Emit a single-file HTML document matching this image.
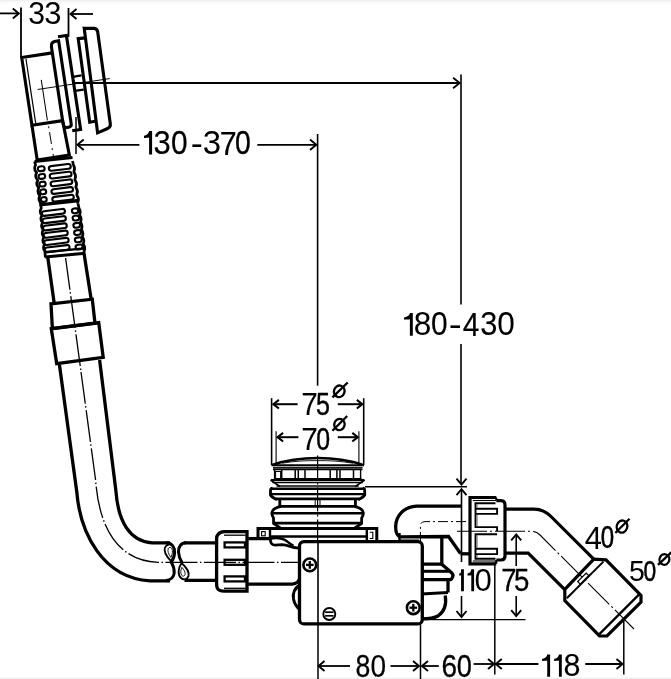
<!DOCTYPE html>
<html><head><meta charset="utf-8"><style>
html,body{margin:0;padding:0;background:#fff;}
svg{display:block;} text{-webkit-font-smoothing:antialiased;}
</style></head><body>
<svg width="671" height="679" viewBox="0 0 671 679" style="will-change:transform;font-family:'Liberation Sans',sans-serif">
<rect x="0" y="0" width="671" height="679" fill="#fff"/>
<rect x="0" y="0" width="671" height="1.6" fill="#f0f0f0"/>
<rect x="0" y="1.6" width="671" height="2" fill="#fafafa"/>
<rect x="0" y="677.6" width="671" height="1.4" fill="#f0f0f0"/>
<g stroke="#000" fill="none" stroke-linecap="butt" stroke-linejoin="miter">
<line x1="0" y1="13.4" x2="18.5" y2="13.4" stroke-width="1.8" />
<path d="M12.8,8.4 L18.8,13.4 L12.8,18.4" stroke-width="1.9" fill="none" />
<line x1="21" y1="7.5" x2="21" y2="57.5" stroke-width="1.8" />
<text transform="translate(28.25,23.80) scale(0.984,1)" font-size="30.65" fill="#000" stroke="none">3</text>
<text transform="translate(44.32,23.80) scale(1.012,1)" font-size="30.65" fill="#000" stroke="none">3</text>
<line x1="68.5" y1="8" x2="68.5" y2="37" stroke-width="1.8" />
<line x1="70.5" y1="14" x2="93" y2="14" stroke-width="1.8" />
<path d="M76.5,9.0 L70.5,14 L76.5,19.0" stroke-width="1.9" fill="none" />
<line x1="75" y1="83" x2="459" y2="83" stroke-width="1.8" />
<path d="M453.09999999999997,77.8 L459.7,83 L453.09999999999997,88.2" stroke-width="1.8" fill="none" />
<line x1="461" y1="74.6" x2="461" y2="304.4" stroke-width="1.6" />
<path d="M409.88,313.00 L412.80,313.00 L412.80,335.80 L409.88,335.80 L409.88,319.16 C408.68,319.50 405.00,319.61 404.00,319.61 L404.00,317.45 C406.50,317.22 409.58,315.51 409.88,313.00 Z" fill="#000" stroke="none"/>
<text transform="translate(413.73,335.48) scale(0.966,1)" font-size="32.65" fill="#000" stroke="#000" stroke-width="0.07" vector-effect="non-scaling-stroke">8</text>
<text transform="translate(431.03,335.48) scale(0.916,1)" font-size="32.65" fill="#000" stroke="#000" stroke-width="0.18" vector-effect="non-scaling-stroke">0</text>
<text transform="translate(448.87,335.80) scale(1.192,1)" font-size="32.65" fill="#000" stroke="none">-</text>
<text transform="translate(462.71,335.80) scale(0.918,1)" font-size="32.65" fill="#000" stroke="#000" stroke-width="0.18" vector-effect="non-scaling-stroke">4</text>
<text transform="translate(480.13,335.48) scale(0.943,1)" font-size="32.65" fill="#000" stroke="#000" stroke-width="0.13" vector-effect="non-scaling-stroke">3</text>
<text transform="translate(497.37,335.48) scale(0.967,1)" font-size="32.65" fill="#000" stroke="#000" stroke-width="0.07" vector-effect="non-scaling-stroke">0</text>
<line x1="461" y1="344" x2="461" y2="484" stroke-width="1.6" />
<path d="M456.5,478.6 L461.5,484.6 L466.5,478.6" stroke-width="1.9" fill="none" />
<line x1="365" y1="486.8" x2="467" y2="486.8" stroke-width="1.4" />
<path d="M456.5,495.2 L461.5,489.2 L466.5,495.2" stroke-width="1.9" fill="none" />
<line x1="461.5" y1="489.5" x2="461.5" y2="562" stroke-width="1.6" />
<line x1="461.5" y1="596" x2="461.5" y2="616.5" stroke-width="1.6" />
<path d="M456.5,611.0 L461.5,617 L466.5,611.0" stroke-width="1.9" fill="none" />
<line x1="76" y1="117" x2="76" y2="154" stroke-width="1.5" />
<line x1="77.5" y1="144.8" x2="139.4" y2="144.8" stroke-width="1.8" />
<path d="M83.7,139.5 L77.4,144.8 L83.7,150.10000000000002" stroke-width="1.9" fill="none" />
<path d="M149.09,131.10 L152.10,131.10 L152.10,154.60 L149.09,154.60 L149.09,137.44 C147.89,137.80 145.00,137.91 144.00,137.91 L144.00,135.68 C146.50,135.45 148.79,133.69 149.09,131.10 Z" fill="#000" stroke="none"/>
<text transform="translate(153.62,154.27) scale(0.921,1)" font-size="33.66" fill="#000" stroke="#000" stroke-width="0.17" vector-effect="non-scaling-stroke">3</text>
<text transform="translate(171.03,154.27) scale(0.889,1)" font-size="33.66" fill="#000" stroke="#000" stroke-width="0.24" vector-effect="non-scaling-stroke">0</text>
<text transform="translate(190.68,154.60) scale(1.083,1)" font-size="33.66" fill="#000" stroke="none">-</text>
<text transform="translate(202.75,154.27) scale(0.978,1)" font-size="33.66" fill="#000" stroke="none">3</text>
<text transform="translate(219.64,154.60) scale(0.902,1)" font-size="33.66" fill="#000" stroke="#000" stroke-width="0.22" vector-effect="non-scaling-stroke">7</text>
<text transform="translate(235.09,154.27) scale(0.845,1)" font-size="33.66" fill="#000" stroke="#000" stroke-width="0.34" vector-effect="non-scaling-stroke">0</text>
<line x1="257.3" y1="144.8" x2="316" y2="144.8" stroke-width="1.8" />
<path d="M310.0,139.5 L316.3,144.8 L310.0,150.10000000000002" stroke-width="1.9" fill="none" />
<line x1="317.6" y1="134" x2="317.6" y2="385.7" stroke-width="1.6" />
<line x1="271.6" y1="398.2" x2="271.6" y2="465" stroke-width="1.6" />
<line x1="363.7" y1="398.2" x2="363.7" y2="465" stroke-width="1.6" />
<line x1="276.1" y1="431.3" x2="276.1" y2="465" stroke-width="1.1" />
<line x1="358.9" y1="431.3" x2="358.9" y2="465" stroke-width="1.1" />
<line x1="273" y1="404.2" x2="297.6" y2="404.2" stroke-width="2.0" />
<path d="M278.9,399.9 L273.4,404.2 L278.9,408.5" stroke-width="2.1" fill="none" />
<line x1="337.8" y1="404.2" x2="362" y2="404.2" stroke-width="2.0" />
<path d="M356.8,399.9 L362.3,404.2 L356.8,408.5" stroke-width="2.1" fill="none" />
<text transform="translate(301.37,415.40) scale(0.972,1)" font-size="30.79" fill="#000" stroke="#000" stroke-width="0.06" vector-effect="non-scaling-stroke">7</text>
<text transform="translate(316.10,415.10) scale(0.815,1)" font-size="30.79" fill="#000" stroke="#000" stroke-width="0.41" vector-effect="non-scaling-stroke">5</text>
<ellipse cx="339.25" cy="391.3" rx="5.28" ry="5.83" stroke-width="2.3" fill="none" transform="rotate(18 339.25 391.3)"/>
<line x1="332.4" y1="397.3" x2="347.7" y2="382.5" stroke-width="2.3" />
<line x1="277" y1="437.2" x2="298.4" y2="437.2" stroke-width="2.0" />
<path d="M283.1,432.9 L277.6,437.2 L283.1,441.5" stroke-width="2.1" fill="none" />
<line x1="337.8" y1="437.2" x2="357.5" y2="437.2" stroke-width="2.0" />
<path d="M352.3,432.9 L357.8,437.2 L352.3,441.5" stroke-width="2.1" fill="none" />
<text transform="translate(301.37,450.00) scale(0.972,1)" font-size="30.79" fill="#000" stroke="#000" stroke-width="0.06" vector-effect="non-scaling-stroke">7</text>
<text transform="translate(316.13,449.70) scale(0.808,1)" font-size="30.79" fill="#000" stroke="#000" stroke-width="0.42" vector-effect="non-scaling-stroke">0</text>
<ellipse cx="339.45" cy="424.5" rx="5.18" ry="5.61" stroke-width="2.3" fill="none" transform="rotate(18 339.45 424.5)"/>
<line x1="332.4" y1="430.7" x2="347.2" y2="416" stroke-width="2.3" />
<line x1="318" y1="623" x2="318" y2="679" stroke-width="1.5" />
<line x1="420.5" y1="623" x2="420.5" y2="679" stroke-width="1.5" />
<line x1="318.5" y1="666" x2="350" y2="666" stroke-width="1.8" />
<path d="M324.5,661.0 L318.5,666 L324.5,671.0" stroke-width="1.9" fill="none" />
<text transform="translate(355.54,676.50) scale(0.865,1)" font-size="30.79" fill="#000" stroke="#000" stroke-width="0.30" vector-effect="non-scaling-stroke">8</text>
<text transform="translate(370.41,676.50) scale(0.910,1)" font-size="30.79" fill="#000" stroke="#000" stroke-width="0.20" vector-effect="non-scaling-stroke">0</text>
<line x1="390.5" y1="666" x2="418.5" y2="666" stroke-width="1.8" />
<path d="M413.0,661.0 L419,666 L413.0,671.0" stroke-width="1.9" fill="none" />
<line x1="422" y1="666" x2="438.8" y2="666" stroke-width="1.8" />
<path d="M428.0,661.0 L422,666 L428.0,671.0" stroke-width="1.9" fill="none" />
<text transform="translate(441.58,676.89) scale(0.871,1)" font-size="32.08" fill="#000" stroke="#000" stroke-width="0.28" vector-effect="non-scaling-stroke">6</text>
<text transform="translate(456.64,676.89) scale(0.848,1)" font-size="32.08" fill="#000" stroke="#000" stroke-width="0.34" vector-effect="non-scaling-stroke">0</text>
<line x1="473.6" y1="664" x2="493.5" y2="664" stroke-width="1.8" />
<path d="M488.0,659.0 L494,664 L488.0,669.0" stroke-width="1.9" fill="none" />
<line x1="494.8" y1="562" x2="494.8" y2="674.5" stroke-width="1.5" />
<line x1="495.8" y1="664" x2="538.4" y2="664" stroke-width="1.8" />
<path d="M501.8,659.0 L495.8,664 L501.8,669.0" stroke-width="1.9" fill="none" />
<path d="M547.23,654.40 L550.10,654.40 L550.10,676.80 L547.23,676.80 L547.23,660.45 C546.03,660.78 543.10,660.90 542.10,660.90 L542.10,658.77 C544.60,658.54 546.93,656.86 547.23,654.40 Z" fill="#000" stroke="none"/>
<path d="M558.93,654.40 L561.80,654.40 L561.80,676.80 L558.93,676.80 L558.93,660.45 C557.73,660.78 555.20,660.90 554.20,660.90 L554.20,658.77 C556.70,658.54 558.63,656.86 558.93,654.40 Z" fill="#000" stroke="none"/>
<text transform="translate(563.58,676.49) scale(0.950,1)" font-size="32.08" fill="#000" stroke="#000" stroke-width="0.11" vector-effect="non-scaling-stroke">8</text>
<line x1="585.3" y1="664" x2="622" y2="664" stroke-width="1.8" />
<path d="M616.5,659.0 L622.5,664 L616.5,669.0" stroke-width="1.9" fill="none" />
<line x1="623.8" y1="620" x2="623.8" y2="674.5" stroke-width="1.5" />
<line x1="424" y1="619.6" x2="525.5" y2="619.6" stroke-width="1.4" />
<path d="M461.08,569.20 L463.90,569.20 L463.90,591.20 L461.08,591.20 L461.08,575.14 C459.88,575.47 460.20,575.58 459.20,575.58 L459.20,573.49 C461.70,573.27 460.78,571.62 461.08,569.20 Z" fill="#000" stroke="none"/>
<path d="M471.28,569.20 L474.10,569.20 L474.10,591.20 L471.28,591.20 L471.28,575.14 C470.08,575.47 468.50,575.58 467.50,575.58 L467.50,573.49 C470.00,573.27 470.98,571.62 471.28,569.20 Z" fill="#000" stroke="none"/>
<text transform="translate(474.58,590.89) scale(0.989,1)" font-size="31.51" fill="#000" stroke="none">0</text>
<text transform="translate(501.29,591.20) scale(0.873,1)" font-size="31.51" fill="#000" stroke="#000" stroke-width="0.28" vector-effect="non-scaling-stroke">7</text>
<text transform="translate(514.09,590.89) scale(0.877,1)" font-size="31.51" fill="#000" stroke="#000" stroke-width="0.27" vector-effect="non-scaling-stroke">5</text>
<line x1="516.2" y1="534.8" x2="516.2" y2="566" stroke-width="1.6" />
<path d="M511.20000000000005,540.4 L516.2,534.4 L521.2,540.4" stroke-width="1.9" fill="none" />
<line x1="516.2" y1="596" x2="516.2" y2="616" stroke-width="1.6" />
<path d="M511.20000000000005,610.1 L516.2,616.1 L521.2,610.1" stroke-width="1.9" fill="none" />
<text transform="translate(584.69,548.60) scale(1.001,1)" font-size="30.93" fill="#000" stroke="none">4</text>
<text transform="translate(600.76,548.30) scale(0.778,1)" font-size="30.93" fill="#000" stroke="#000" stroke-width="0.49" vector-effect="non-scaling-stroke">0</text>
<ellipse cx="622" cy="526.6" rx="5.28" ry="6.16" stroke-width="2.3" fill="none" transform="rotate(18 622 526.6)"/>
<line x1="615.3" y1="533" x2="629.5" y2="518.8" stroke-width="2.3" />
<text transform="translate(629.06,580.92) scale(0.979,1)" font-size="29.07" fill="#000" stroke="none">5</text>
<text transform="translate(643.51,580.92) scale(0.784,1)" font-size="29.07" fill="#000" stroke="#000" stroke-width="0.47" vector-effect="non-scaling-stroke">0</text>
<ellipse cx="664.4" cy="559.5" rx="4.90" ry="5.28" stroke-width="2.3" fill="none" transform="rotate(18 664.4 559.5)"/>
<line x1="658" y1="564.9" x2="671.5" y2="552.2" stroke-width="2.3" />
<g transform="translate(21.7,57.5) rotate(-8.6)">
<path d="M31,0 L0,0 L0,68.5 L31,68.5" stroke-width="3.1" fill="none" />
<line x1="4" y1="2" x2="4" y2="67" stroke-width="1.2" />
<path d="M0,68.5 L0,103.6 L32.5,103.6 L31,68.5" stroke-width="3.1" fill="none" />
<path d="M16,25 L16,66" stroke-width="1.0" fill="none" />
<path d="M16.3,72 L16.6,104" stroke-width="1.0" fill="none" stroke-dasharray="2,4,12,4"/>
<line x1="11" y1="34" x2="84" y2="34" stroke-width="0.9" />
<path d="M31,70 L31,-6 Q31,-11 36,-11 L39,-11 L39,73 Q39,76 36,76 L34,76 Q31,76 31,70" stroke-width="3.1" fill="none" />
<path d="M39,-15 L47.5,-15 L47.5,80 L39,80" stroke-width="3.1" fill="none" />
<path d="M47.5,26.7 L56.5,26.7 M47.5,41 L56.5,41" stroke-width="2.2" fill="none" />
</g>
<path d="M85.5,37.9 L78.2,38.7 L89.7,122.2 L95.2,121.3" stroke-width="3.1" fill="none" />
<path d="M84.2,28.2 L94.2,28.4 Q97.3,28.7 97.7,32 L110.3,123.8 Q110.7,127.3 107.6,128.5 L97.6,132.8 Z" stroke-width="3.1" fill="none" />
<path d="M34.6,161.5 L35.57,165.00 Q33.37,168.40 36.05,171.80 L36.66,172.70 Q34.46,176.10 37.14,179.50 L37.75,180.40 Q35.55,183.80 38.23,187.20 L38.84,188.10 Q36.64,191.50 39.32,194.90 L39.92,195.80 Q37.72,199.20 40.40,202.60 L40.6,204" stroke-width="2.7" fill="none" stroke-linejoin="round"/>
<path d="M72.5,161 L73.42,165.00 Q75.62,168.40 73.85,171.80 L74.38,172.70 Q76.58,176.10 74.81,179.50 L75.34,180.40 Q77.54,183.80 75.77,187.20 L76.30,188.10 Q78.50,191.50 76.73,194.90 L77.26,195.80 Q79.46,199.20 77.69,202.60 L77.8,203.5" stroke-width="2.7" fill="none" stroke-linejoin="round"/>
<path d="M34.6,161.5 L72.5,157.5" stroke-width="3.0" fill="none" />
<rect x="37.80" y="166.35" width="6.80" height="4.7" rx="2.35" ry="2.35" stroke-width="2.1" fill="none" transform="rotate(-7 41.20 168.70)"/>
<rect x="48.80" y="165.05" width="22.00" height="4.7" rx="2.35" ry="2.35" stroke-width="2.1" fill="none" transform="rotate(-7 59.80 167.40)"/>
<rect x="38.57" y="174.05" width="6.55" height="4.7" rx="2.35" ry="2.35" stroke-width="2.1" fill="none" transform="rotate(-7 41.85 176.40)"/>
<rect x="49.67" y="172.75" width="21.88" height="4.7" rx="2.35" ry="2.35" stroke-width="2.1" fill="none" transform="rotate(-7 60.61 175.10)"/>
<rect x="39.35" y="181.75" width="6.30" height="4.7" rx="2.35" ry="2.35" stroke-width="2.1" fill="none" transform="rotate(-7 42.50 184.10)"/>
<rect x="50.55" y="180.45" width="21.75" height="4.7" rx="2.35" ry="2.35" stroke-width="2.1" fill="none" transform="rotate(-7 61.42 182.80)"/>
<rect x="40.12" y="189.45" width="6.05" height="4.7" rx="2.35" ry="2.35" stroke-width="2.1" fill="none" transform="rotate(-7 43.15 191.80)"/>
<rect x="51.42" y="188.15" width="21.62" height="4.7" rx="2.35" ry="2.35" stroke-width="2.1" fill="none" transform="rotate(-7 62.24 190.50)"/>
<rect x="40.90" y="197.15" width="5.80" height="4.7" rx="2.35" ry="2.35" stroke-width="2.1" fill="none" transform="rotate(-7 43.80 199.50)"/>
<rect x="52.30" y="195.85" width="21.50" height="4.7" rx="2.35" ry="2.35" stroke-width="2.1" fill="none" transform="rotate(-7 63.05 198.20)"/>
<path d="M40.6,204 L41.28,208.20 Q39.08,211.60 41.59,215.00 L41.93,215.45 Q39.73,218.85 42.24,222.25 L42.58,222.70 Q40.38,226.10 42.89,229.50 L43.23,229.95 Q41.03,233.35 43.54,236.75 L43.88,237.20 Q41.68,240.60 44.19,244.00 L44.53,244.45 Q42.33,247.85 44.84,251.25 L45.4,257.5" stroke-width="2.7" fill="none" stroke-linejoin="round"/>
<path d="M78.0,203.5 L79.02,208.20 Q81.22,211.60 79.45,215.00 L79.93,215.45 Q82.13,218.85 80.36,222.25 L80.84,222.70 Q83.04,226.10 81.27,229.50 L81.75,229.95 Q83.95,233.35 82.18,236.75 L82.66,237.20 Q84.86,240.60 83.09,244.00 L83.58,244.45 Q85.78,247.85 84.00,251.25 L84.6,256" stroke-width="2.7" fill="none" stroke-linejoin="round"/>
<path d="M39.5,204.8 L79,200.5" stroke-width="3.3" fill="none" />
<path d="M44.2,252.2 L84.2,248.4" stroke-width="2.4" fill="none" />
<path d="M45.2,257.0 L85.0,253.2" stroke-width="3.0" fill="none" />
<rect x="41.80" y="210.05" width="23.20" height="4.7" rx="2.35" ry="2.35" stroke-width="2.1" fill="none" transform="rotate(-7 53.40 212.40)"/>
<rect x="71.90" y="208.45" width="6.40" height="4.7" rx="2.35" ry="2.35" stroke-width="2.1" fill="none" transform="rotate(-7 75.10 210.80)"/>
<rect x="42.38" y="217.30" width="23.54" height="4.7" rx="2.35" ry="2.35" stroke-width="2.1" fill="none" transform="rotate(-7 54.15 219.65)"/>
<rect x="72.64" y="215.70" width="6.52" height="4.7" rx="2.35" ry="2.35" stroke-width="2.1" fill="none" transform="rotate(-7 75.90 218.05)"/>
<rect x="42.96" y="224.55" width="23.88" height="4.7" rx="2.35" ry="2.35" stroke-width="2.1" fill="none" transform="rotate(-7 54.90 226.90)"/>
<rect x="73.38" y="222.95" width="6.64" height="4.7" rx="2.35" ry="2.35" stroke-width="2.1" fill="none" transform="rotate(-7 76.70 225.30)"/>
<rect x="43.54" y="231.80" width="24.22" height="4.7" rx="2.35" ry="2.35" stroke-width="2.1" fill="none" transform="rotate(-7 55.65 234.15)"/>
<rect x="74.12" y="230.20" width="6.76" height="4.7" rx="2.35" ry="2.35" stroke-width="2.1" fill="none" transform="rotate(-7 77.50 232.55)"/>
<rect x="44.12" y="239.05" width="24.56" height="4.7" rx="2.35" ry="2.35" stroke-width="2.1" fill="none" transform="rotate(-7 56.40 241.40)"/>
<rect x="74.86" y="237.45" width="6.88" height="4.7" rx="2.35" ry="2.35" stroke-width="2.1" fill="none" transform="rotate(-7 78.30 239.80)"/>
<rect x="44.70" y="246.30" width="24.90" height="4.7" rx="2.35" ry="2.35" stroke-width="2.1" fill="none" transform="rotate(-7 57.15 248.65)"/>
<rect x="75.60" y="244.70" width="7.00" height="4.7" rx="2.35" ry="2.35" stroke-width="2.1" fill="none" transform="rotate(-7 79.10 247.05)"/>
<path d="M47.8,257.5 L54.2,303.2 M84.2,254.5 L91.2,299.5" stroke-width="3.3" fill="none" />
<path d="M51.0,303.8 L92.3,299.2 L95.0,323.3 L52.4,328.6 Z" stroke-width="3.3" fill="none" />
<path d="M51.3,328.7 L98.7,322.5 L103.2,357.3 L56.7,363.6 Z" stroke-width="3.3" fill="none" />
<path d="M65.6,258 L80.8,370" stroke-width="1.3" fill="none" stroke-dasharray="32,2.5,1.5,2.5"/>
<path d="M59.4,364.5 L76.8,492 C80,532 102,578 150,580.8 L170,580.8" stroke-width="3.3" fill="none" />
<path d="M99.6,360 L115.8,490 C118,522 130,541.5 152,542.8 L170,542.8" stroke-width="3.3" fill="none" />
<path d="M81,372 L95.6,480 C99,528 118,561 158,562.3 L300,562.3" stroke-width="1.3" fill="none" stroke-dasharray="32,2.5,1.5,2.5"/>
<path d="M166,542.8 C172,542.8 174.8,547 174.6,552.5 C174.4,557 172.5,560.5 171.2,562 C173,565 174.5,569 174.2,573 C173.8,577.5 171,579.8 166,580.5" stroke-width="3.0" fill="none" />
<path d="M171.3,561.4 C166,556 163.5,551 165,547.5 C166.5,544 171,543.5 173,546 C175.5,549 175,555 171.3,561.4 Z" stroke-width="1.8" fill="none" />
<path d="M171,557.5 C168.3,554 167.4,550.8 168.2,548.8 C169,547 170.8,547 171.7,548.3 C172.8,550.2 172.7,553.5 171,557.5 Z" stroke-width="0.9" fill="none" />
<path d="M186,542.8 C181,542.8 178.3,547 178.5,552 C178.7,556.5 180.5,560 182,562.5" stroke-width="3.0" fill="none" />
<path d="M181.5,563 C186,567 189.5,572 188.5,576 C187.5,579.5 183.5,580.5 181,578 C178,575.5 177.5,569 181.5,563 Z" stroke-width="1.9" fill="none" />
<path d="M181.8,567.3 C184,569.5 185.6,572.5 185.1,574.5 C184.6,576.4 182.6,576.6 181.6,575.2 C180.5,573.6 180.5,570.5 181.8,567.3 Z" stroke-width="0.9" fill="none" />
<path d="M184,542.8 L215,542.8 M184.5,580.3 L215,580.3" stroke-width="3.3" fill="none" />
<path d="M224,531.6 L247,531.6 L247,591.2 L224,591.2 Q219,591 217.5,588.5 Q216.6,587 216.6,584 L216.6,539 Q216.6,535.8 218,534.5 Q220,531.8 224,531.6 Z" stroke-width="3.3" fill="none" />
<line x1="224" y1="535.2" x2="245.5" y2="535.2" stroke-width="1.3" />
<line x1="224" y1="588.3" x2="245.5" y2="588.3" stroke-width="1.3" />
<rect x="224.6" y="542.4" width="20.4" height="5.0" stroke-width="2.3" fill="none"/>
<rect x="224.6" y="559.8" width="20.4" height="5.0" stroke-width="2.3" fill="none"/>
<rect x="224.6" y="576.4" width="20.4" height="5.0" stroke-width="2.3" fill="none"/>
<path d="M248.2,538.6 L271,538.6" stroke-width="3.3" fill="none" />
<path d="M248.2,584.1 L292,584.1 Q299,584 300.4,576" stroke-width="3.3" fill="none" />
<path d="M270.5,538.5 C270,542.5 271.5,545.2 275,545.2 L282,544.6 C288,544.6 292,547.8 297,547.8 L301,547.8" stroke-width="2.8" fill="none" />
<path d="M270.5,538.5 C276,537.6 282.5,538.2 286.5,541 C289,542.8 291,544.6 293.5,545.8" stroke-width="2.4" fill="none" />
<path d="M300,584.5 C295,588 292.5,593 293.5,599 C294.5,604 297,607.5 300,609.5" stroke-width="3.0" fill="none" />
<path d="M272.2,464.8 C288,459.5 300,458 317.8,458 C335,458 347,459.5 363,464.8" stroke-width="2.4" fill="none" />
<path d="M282,463.2 C295,461 305,460.6 317.8,460.6 C330,460.6 340,461 353,463.2" stroke-width="0.9" fill="none" />
<line x1="271.5" y1="465.2" x2="364" y2="465.2" stroke-width="1.9" />
<line x1="273" y1="467.4" x2="362.5" y2="467.4" stroke-width="1.0" />
<line x1="273" y1="469.3" x2="362.5" y2="469.3" stroke-width="1.9" />
<line x1="274" y1="478.8" x2="361.5" y2="478.8" stroke-width="1.6" />
<path d="M274.6,469.3 L274.6,479" stroke-width="1.4" fill="none" />
<path d="M 360.60,469.3 L 360.60,479.0" stroke-width="1.4" fill="none" />
<path d="M281.7,469.5 L281.7,478.6" stroke-width="1.5" fill="none" />
<path d="M 353.50,469.5 L 353.50,478.6" stroke-width="1.5" fill="none" />
<path d="M295.2,469.5 L295.2,478.6" stroke-width="1.5" fill="none" />
<path d="M 340.00,469.5 L 340.00,478.6" stroke-width="1.5" fill="none" />
<path d="M298.3,469.5 L298.3,478.6" stroke-width="1.5" fill="none" />
<path d="M 336.90,469.5 L 336.90,478.6" stroke-width="1.5" fill="none" />
<path d="M305.0,469.5 L305.0,478.6" stroke-width="1.5" fill="none" />
<path d="M 330.20,469.5 L 330.20,478.6" stroke-width="1.5" fill="none" />
<rect x="275.6" y="471.5" width="5" height="7" stroke-width="1.0" fill="none"/>
<line x1="271" y1="480.0" x2="364.2" y2="480.0" stroke-width="2.2" />
<line x1="272.5" y1="482.4" x2="362.7" y2="482.4" stroke-width="1.5" />
<line x1="276.5" y1="486.0" x2="358.7" y2="486.0" stroke-width="1.5" />
<path d="M270.5,480 L280,486.5" stroke-width="1.6" fill="none" />
<path d="M 364.70,480.0 L 355.20,486.5" stroke-width="1.6" fill="none" />
<line x1="270.5" y1="488.7" x2="364.7" y2="488.7" stroke-width="2.4" />
<line x1="270.5" y1="494.1" x2="364.7" y2="494.1" stroke-width="2.4" />
<line x1="276" y1="498.8" x2="359.2" y2="498.8" stroke-width="2.7" />
<path d="M272.5,488.2 Q270.5,488.5 270.5,490.5 L270.5,495 Q272,497.5 277,499.8" stroke-width="2.8" fill="none" />
<path d="M 362.70,488.2 Q 364.70,488.5 364.70,490.5 L 364.70,495.0 Q 363.20,497.5 358.20,499.8" stroke-width="2.8" fill="none" />
<path d="M279.8,499.5 L279.8,506" stroke-width="2.8" fill="none" />
<path d="M 355.40,499.5 L 355.40,506.0" stroke-width="2.8" fill="none" />
<line x1="315.2" y1="500" x2="315.2" y2="505.5" stroke-width="1.0" />
<line x1="320" y1="500" x2="320" y2="505.5" stroke-width="1.0" />
<line x1="280" y1="506.4" x2="355.2" y2="506.4" stroke-width="2.6" />
<line x1="273" y1="513.3" x2="362.2" y2="513.3" stroke-width="2.6" />
<line x1="274" y1="523.2" x2="361.2" y2="523.2" stroke-width="2.8" />
<path d="M281,506.4 Q272.5,508 271.8,513.1 Q272,516 273.5,517.8 L273.6,523.5 L281.7,528.8" stroke-width="2.8" fill="none" />
<path d="M 354.20,506.4 Q 362.70,508.0 363.40,513.1 Q 363.20,516.0 361.70,517.8 L 361.60,523.5 L 353.50,528.8" stroke-width="2.8" fill="none" />
<path d="M258,538 L258,528.6 L376.8,528.6 L376.8,541" stroke-width="3.0" fill="none" />
<line x1="269.5" y1="536.5" x2="367" y2="536.5" stroke-width="2.6" />
<path d="M270,529 L270,538.5" stroke-width="2.4" fill="none" />
<path d="M366.8,529 L366.8,541" stroke-width="2.4" fill="none" />
<rect x="261.6" y="531.6" width="3.6" height="4.2" stroke-width="1.1" fill="none"/>
<path d="M369.8,532.3 L372.8,532.3 L372.8,538.5 L369.8,538.5" stroke-width="1.1" fill="none" />
<path d="M317.6,455.5 L317.6,623" stroke-width="1.2" fill="none" stroke-dasharray="24,3,2,3"/>
<rect x="299.5" y="541.7" width="122.8" height="82.2" rx="4.5" ry="4.5" stroke-width="3.3" fill="#fff"/>
<circle cx="309.8" cy="564.9" r="6.4" stroke-width="2.6" fill="#fff"/>
<line x1="305.96000000000004" y1="564.9" x2="313.64" y2="564.9" stroke-width="2.3" />
<line x1="309.8" y1="561.06" x2="309.8" y2="568.74" stroke-width="2.3" />
<circle cx="413.3" cy="607.7" r="6.4" stroke-width="2.6" fill="#fff"/>
<line x1="409.46000000000004" y1="607.7" x2="417.14" y2="607.7" stroke-width="2.3" />
<line x1="413.3" y1="603.86" x2="413.3" y2="611.5400000000001" stroke-width="2.3" />
<circle cx="329.3" cy="614.0" r="6.0" stroke-width="1.9" fill="#fff"/>
<line x1="325.1" y1="612.2" x2="333.5" y2="612.2" stroke-width="1.7" />
<line x1="325.1" y1="615.8" x2="333.5" y2="615.8" stroke-width="1.7" />
<line x1="318" y1="623" x2="318" y2="541.7" stroke-width="1.6" />
<path d="M461,506.1 L416.6,506.1 C404,506.5 396,516 395.7,526 C395.5,531.5 396.5,535 399.5,536.8 L448.5,536.5 L460.5,553.5" stroke-width="3.3" fill="none" />
<path d="M399.5,533 L399.5,542.5" stroke-width="2.4" fill="none" />
<line x1="399.5" y1="540" x2="419" y2="540" stroke-width="1.0" />
<path d="M466,521.6 L425,521.6 Q420.4,521.6 420.4,526 L420.4,541" stroke-width="1.0" fill="none" stroke-dasharray="10,3,2,3"/>
<path d="M441.8,536.5 L441.8,564" stroke-width="3.3" fill="none" />
<path d="M421.3,564.2 L441.6,564.2 L450,571.3 Q453.8,574 452.8,576.5 Q452,579 450.5,579.7 L421.3,579.7" stroke-width="3.3" fill="none" />
<line x1="421.3" y1="571.3" x2="450" y2="571.3" stroke-width="3.0" />
<path d="M448,579.7 L448,592.5" stroke-width="3.3" fill="none" />
<path d="M421.3,594 L448,592.5" stroke-width="3.0" fill="none" />
<path d="M445.2,595.5 C446.5,603 445,611 438,616 C434,618.4 428,618.8 421.3,618.8" stroke-width="3.3" fill="none" />
<path d="M460.5,553.8 L470,553.8" stroke-width="3.3" fill="none" />
<path d="M496.3,497.5 L470,497.5 L470,563.8 L496.3,563.8" stroke-width="3.2" fill="none" />
<path d="M496.3,500.6 L501,500.6 Q505,500.6 505,505 L505,556 Q505,560 501,560 L496.3,560" stroke-width="3.2" fill="none" />
<path d="M496.3,497.5 L496.3,500.6 M496.3,560 L496.3,563.8" stroke-width="2.0" fill="none" />
<line x1="472.8" y1="500.5" x2="496" y2="500.5" stroke-width="1.1" />
<line x1="472.8" y1="561" x2="496" y2="561" stroke-width="1.1" />
<path d="M495.5,503.2 L475.5,503.2 L475.5,527.1 L497.1,527.1 L497.1,531" stroke-width="1.9" fill="none" />
<path d="M475.5,508.7 L497.1,508.7 L497.1,513.9 L475.5,513.9" stroke-width="1.9" fill="none" />
<path d="M497.1,534.2 L475.5,534.2 L475.5,558.7 L495.5,558.7" stroke-width="1.9" fill="none" />
<path d="M475.5,548.8 L497.1,548.8 L497.1,554.1 L475.5,554.1" stroke-width="1.9" fill="none" />
<line x1="477.2" y1="504.2" x2="477.2" y2="507.8" stroke-width="0.9" stroke="#777"/>
<line x1="477.2" y1="515" x2="477.2" y2="526" stroke-width="0.9" stroke="#777"/>
<line x1="477.2" y1="535.2" x2="477.2" y2="547.8" stroke-width="0.9" stroke="#777"/>
<line x1="477.2" y1="555" x2="477.2" y2="557.8" stroke-width="0.9" stroke="#777"/>
<path d="M505,509.2 L534,509.2 Q543.9,509.2 551.5,517 L594,559.4" stroke-width="3.2" fill="none" />
<path d="M505,553.2 L528.2,553.2 L565,589.8" stroke-width="3.2" fill="none" />
<path d="M457,531.3 L531,531.3 C535,531.3 537,532 540,535 L634,629" stroke-width="1.1" fill="none" stroke-dasharray="30,3,2,3"/>
<path d="M564.8,589.4 L593.8,559.2 L606,559.8 L641,595.5 L641,602.2 L607,636 L599.5,635.8 L564.8,600.5 Z" stroke-width="3.2" fill="none" />
<line x1="566.8" y1="598.2" x2="603.4" y2="561.6" stroke-width="2.0" />
<line x1="598.6" y1="634.9" x2="639.6" y2="593.9" stroke-width="2.3" />
<rect x="-1.75" y="-6" width="3.5" height="12" stroke-width="1.2" fill="#fff" transform="translate(583.2,578.6) rotate(45)"/>
</g>
</svg>
</body></html>
